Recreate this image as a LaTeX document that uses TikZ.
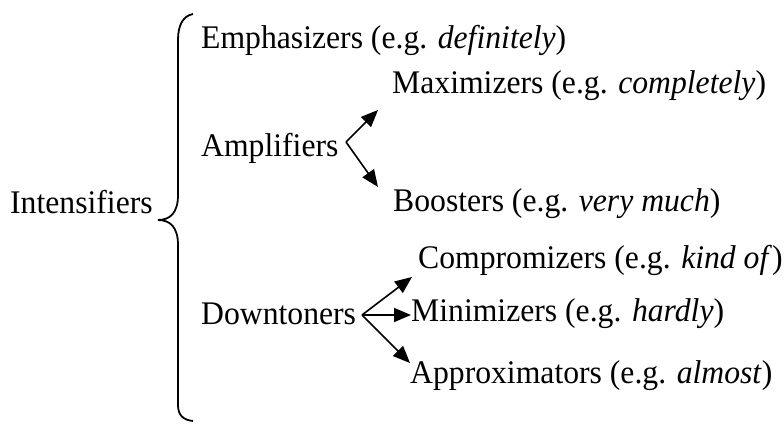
\documentclass[tikz,border=0pt]{standalone}
\usepackage{fontspec}
\setmainfont[FakeStretch=0.96]{Liberation Serif}
\usetikzlibrary{arrows.meta}
\tikzset{
  lbl/.style={anchor=base west, inner sep=0pt, font=\fontsize{33}{38}\selectfont},
  arr/.style={line width=1.6pt, -{Triangle[length=17pt,width=14pt]}},
  brace/.style={line width=1.8pt}
}
\begin{document}
\begin{tikzpicture}[x=1pt,y=1pt]
\useasboundingbox (0,0) rectangle (784,425);
\node[lbl] (int) at (10,211) {Intensifiers};
\node[lbl] (emph) at (201,376) {Emphasizers (e.g. \textit{definitely})};
\node[lbl] (amp) at (201,268) {Amplifiers};
\node[lbl] (maxi) at (392,331) {Maximizers (e.g. \textit{completely})};
\node[lbl] (boost) at (393,213) {Boosters (e.g. \textit{very much})};
\node[lbl] (down) at (201,100) {Downtoners};
\node[lbl] (comp) at (418,156) {Compromizers (e.g. \textit{kind of})};
\node[lbl] (mini) at (411,103) {Minimizers (e.g. \textit{hardly})};
\node[lbl] (appr) at (410,41) {Approximators (e.g. \textit{almost})};
% brace
\draw[brace] (193,411) .. controls (183,409) and (178,400) .. (178,385) -- (178,230)
  .. controls (178,212) and (170,205) .. (158,205)
  .. controls (170,205) and (178,198) .. (178,180) -- (178,20)
  .. controls (178,10) and (183,5) .. (193,4);
% amplifiers arrows
\coordinate (ampv) at (346,283);
\coordinate (maxtip) at (378,315);
\coordinate (boosttip) at (378,238);
\draw[arr] (ampv) -- (maxtip);
\draw[arr] (ampv) -- (boosttip);
% downtoners arrows
\coordinate (downv) at (362,110);
\coordinate (comptip) at (412,148);
\coordinate (minitip) at (411,110);
\coordinate (apprtip) at (410,62);
\draw[arr] (downv) -- (comptip);
\draw[arr] (downv) -- (minitip);
\draw[arr] (downv) -- (apprtip);
\end{tikzpicture}
\end{document}
